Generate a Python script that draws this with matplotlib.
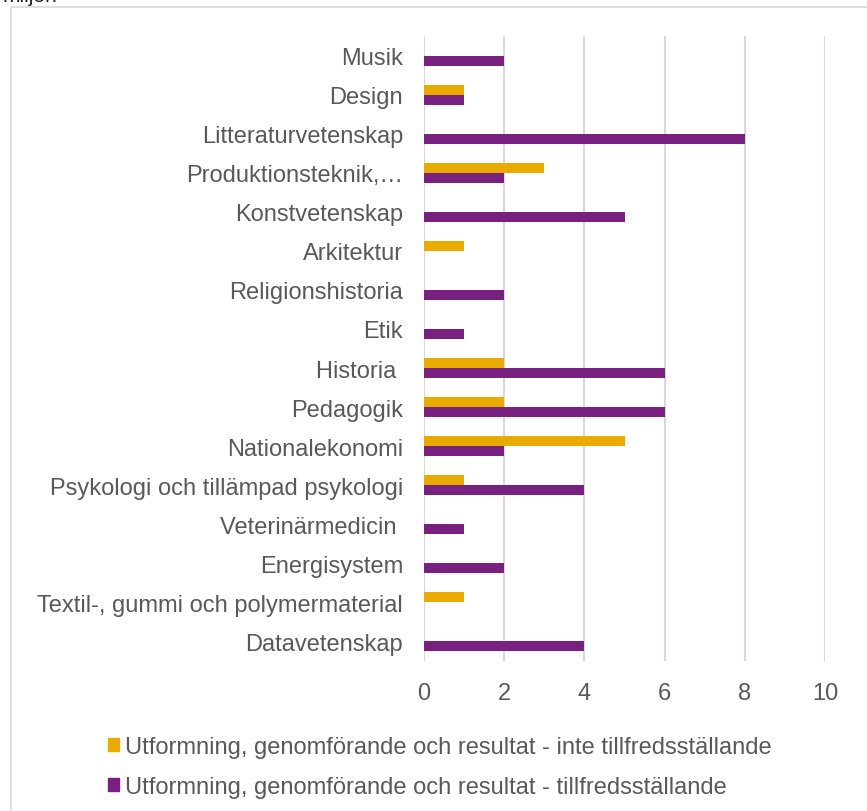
import numpy as np
import matplotlib.pyplot as plt
from matplotlib.patches import Rectangle, Patch

plt.rcParams['font.family'] = ['Liberation Sans', 'DejaVu Sans']

subjects = ['Musik', 'Design', 'Litteraturvetenskap', 'Produktionsteknik,…',
            'Konstvetenskap', 'Arkitektur', 'Religionshistoria', 'Etik',
            'Historia ', 'Pedagogik', 'Nationalekonomi',
            'Psykologi och tillämpad psykologi', 'Veterinärmedicin ',
            'Energisystem', 'Textil-, gummi och polymermaterial', 'Datavetenskap']
inte_ok = [0, 1, 0, 3, 0, 1, 0, 0, 2, 2, 5, 1, 0, 0, 1, 0]
ok = [2, 1, 8, 2, 5, 0, 2, 1, 6, 6, 2, 4, 1, 2, 0, 4]
xticks = [0, 2, 4, 6, 8, 10]

label_inte = 'Utformning, genomförande och resultat - inte tillfredsställande'
label_ok = 'Utformning, genomförande och resultat - tillfredsställande'

orange = '#EAAB00'
purple = '#782181'
text_col = '#595959'
grid_col = '#D9D9D9'

W, H = 867, 812
fig = plt.figure(figsize=(W / 100, H / 100), dpi=100)

# chart area border and cut-off title above
fig.patches.append(Rectangle((11 / W, -0.1), 2, 1.1 - 8 / H, transform=fig.transFigure,
                             fill=False, edgecolor=grid_col, linewidth=1.2))
fig.text(3 / W, 1 - 2 / H, 'miljön', fontsize=15, color='#222222', va='baseline', ha='left')

ax = fig.add_axes([424 / W, 1 - 662 / H, (825 - 424) / W, (662 - 37) / H])

y = np.arange(len(subjects))
h = 0.256
ax.barh(y - h / 2, inte_ok, height=h, color=orange, label=label_inte)
ax.barh(y + h / 2, ok, height=h, color=purple, label=label_ok)

ax.set_ylim(15.5, -0.5)
ax.set_xlim(0, 10)
ax.set_xticks(xticks)
ax.set_yticks(y)
ax.set_yticklabels(subjects)
ax.tick_params(axis='both', length=0, labelsize=17, colors=text_col)
ax.tick_params(axis='y', pad=15)
ax.tick_params(axis='x', pad=15)
for s in ax.spines.values():
    s.set_visible(False)
ax.grid(axis='x', color=grid_col, linewidth=1.5)
ax.set_axisbelow(True)

handles = [Patch(color=orange), Patch(color=purple)]
fig.legend(handles, [label_inte, label_ok], loc='upper left',
           bbox_to_anchor=(108 / W, 1 - 737 / H), frameon=False, fontsize=17,
           handlelength=0.45, handleheight=0.45, handletextpad=0.25,
           labelspacing=0.75, borderpad=0, borderaxespad=0, labelcolor=text_col)

fig.savefig('out.png', dpi=100)
